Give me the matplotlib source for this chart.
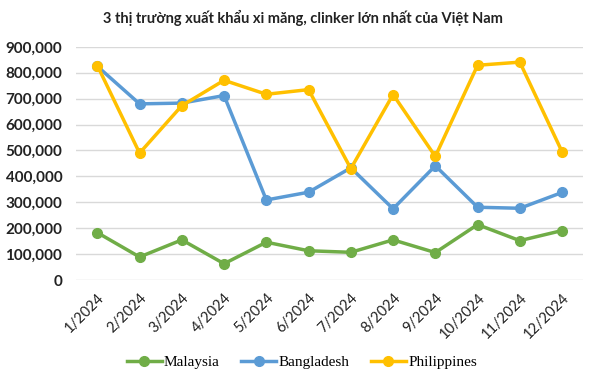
import matplotlib
matplotlib.use("Agg")
import matplotlib.pyplot as plt
from matplotlib.ticker import FuncFormatter

# Data
months = ["1/2024", "2/2024", "3/2024", "4/2024", "5/2024", "6/2024",
          "7/2024", "8/2024", "9/2024", "10/2024", "11/2024", "12/2024"]
malaysia = [183000, 89000, 155000, 63000, 146000, 113000,
            107000, 155000, 106000, 214000, 152000, 191000]
bangladesh = [825000, 680000, 683000, 712000, 309000, 339000,
              433000, 275000, 441000, 281000, 277000, 338000]
philippines = [828000, 490000, 673000, 771000, 717000, 735000,
               430000, 716000, 477000, 829000, 841000, 495000]

sans = ["Lato", "DejaVu Sans"]

fig = plt.figure(figsize=(6, 3.81), dpi=100)
ax = fig.add_axes([0.127, 0.265, 0.845, 0.612])

x = range(len(months))
ax.plot(x, malaysia, color="#70AD47", lw=2.5, marker="o", ms=7, label="Malaysia")
ax.plot(x, bangladesh, color="#5B9BD5", lw=2.5, marker="o", ms=7, label="Bangladesh")
ax.plot(x, philippines, color="#FFC000", lw=2.5, marker="o", ms=7, label="Philippines")

ax.set_xlim(-0.5, len(months) - 0.5)
ax.set_ylim(0, 900000)
ax.set_yticks(range(0, 900001, 100000))
ax.yaxis.set_major_formatter(FuncFormatter(lambda v, p: f"{int(v):,}"))
ax.grid(axis="y", color="#d9d9d9", lw=1)
ax.set_axisbelow(True)
for s in ax.spines.values():
    s.set_visible(False)
ax.tick_params(length=0)
ax.tick_params(axis="y", pad=10)
ax.tick_params(axis="x", pad=8)

ax.set_xticks(list(x))
ax.set_xticklabels(months, rotation=45, ha="right", rotation_mode="anchor",
                   family=sans, fontsize=10.5, color="#222222")
for lab in ax.get_xticklabels():
    lab.set_x(lab.get_position()[0])
for lab in ax.get_yticklabels():
    lab.set_family(sans)
    lab.set_fontsize(11)
    lab.set_fontweight("bold")
    lab.set_color("#222222")

fig.text(0.505, 0.952, "3 thị trường xuất khẩu xi măng, clinker lớn nhất của Việt Nam",
         ha="center", va="center", fontsize=10.5, fontweight="bold", color="#222222",
         family=sans)

ax.legend(loc="center", bbox_to_anchor=(0.445, -0.353), ncol=3, frameon=False,
          prop={"family": "Liberation Serif", "size": 11}, handlelength=2.3,
          columnspacing=1.4, handletextpad=0.15)

fig.savefig("out.png", dpi=100)
